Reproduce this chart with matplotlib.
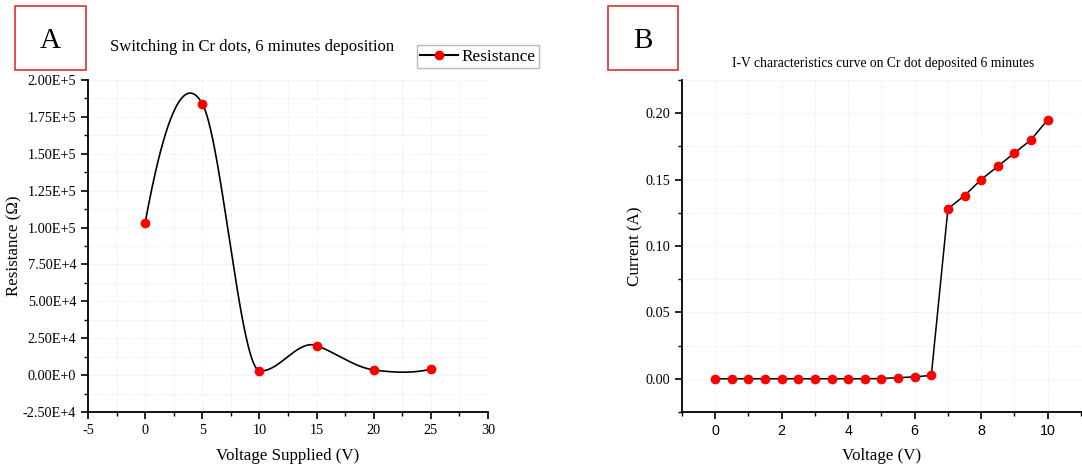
import numpy as np
import matplotlib.pyplot as plt
from matplotlib.ticker import MultipleLocator, FuncFormatter
from matplotlib.patches import Rectangle

# panel A: resistance vs supplied voltage
volt_a = [0, 5, 10, 15, 20, 25]
resist = [1.03e5, 1.84e5, 3.0e3, 2.0e4, 3.5e3, 4.0e3]

# panel B: I-V curve
volt_b = [0, 0.5, 1, 1.5, 2, 2.5, 3, 3.5, 4, 4.5, 5, 5.5, 6, 6.5,
          7, 7.5, 8, 8.5, 9, 9.5, 10]
current = [0, 0, 0, 0, 0, 0, 0, 0, 0, 0, 0.0002, 0.0008, 0.0015, 0.0025,
           0.128, 0.138, 0.150, 0.160, 0.170, 0.180, 0.195]

plt.rcParams['font.family'] = 'Liberation Serif'
plt.rcParams['axes.unicode_minus'] = False


def akima(x, y, n=500):
    # Akima spline, only used to draw the smooth connecting line
    x = np.asarray(x, float)
    y = np.asarray(y, float)
    d = np.diff(y) / np.diff(x)
    m = np.concatenate([[3 * d[0] - 2 * d[1], 2 * d[0] - d[1]], d,
                        [2 * d[-1] - d[-2], 3 * d[-1] - 2 * d[-2]]])
    w1 = np.abs(m[3:] - m[2:-1])
    w2 = np.abs(m[1:-2] - m[:-3])
    t = np.where(w1 + w2 > 0,
                 (w1 * m[1:-2] + w2 * m[2:-1]) / np.where(w1 + w2 > 0, w1 + w2, 1),
                 0.5 * (m[1:-2] + m[2:-1]))
    xs = np.linspace(x[0], x[-1], n)
    i = np.clip(np.searchsorted(x, xs) - 1, 0, len(x) - 2)
    h = x[i + 1] - x[i]
    s = (xs - x[i]) / h
    h00 = 2 * s ** 3 - 3 * s ** 2 + 1
    h10 = s ** 3 - 2 * s ** 2 + s
    h01 = -2 * s ** 3 + 3 * s ** 2
    h11 = s ** 3 - s ** 2
    ys = h00 * y[i] + h10 * h * t[i] + h01 * y[i + 1] + h11 * h * t[i + 1]
    return xs, ys


def sci(v, pos):
    if abs(v) < 1:
        return '0.00E+0'
    e = int(np.floor(np.log10(abs(v))))
    return '%.2fE+%d' % (v / 10 ** e, e)


def style(ax):
    ax.spines['top'].set_visible(False)
    ax.spines['right'].set_visible(False)
    for s in ['left', 'bottom']:
        ax.spines[s].set_linewidth(1.3)
    ax.grid(True, which='both', color='#e3e3e3', linewidth=0.6, linestyle=':')
    ax.set_axisbelow(True)
    ax.tick_params(which='major', direction='out', length=5, width=1.2, labelsize=10.3)
    ax.tick_params(which='minor', direction='out', length=3, width=1)


fig = plt.figure(figsize=(10.82, 4.68), dpi=100)

# ---- panel A ----
ax1 = fig.add_axes([0.0813, 0.1197, 0.3697, 0.7094])
xs, ys = akima(volt_a, resist)
ax1.plot(xs, ys, color='black', linewidth=1.2)
ax1.plot(volt_a, resist, 'o', color='#ff0000', markersize=6)
ax1.plot([], [], '-o', color='black', markerfacecolor='#ff0000',
         markeredgecolor='#ff0000', markersize=6, label='Resistance')
ax1.set_xlim(-5, 30)
ax1.set_ylim(-2.5e4, 2.0e5)
ax1.xaxis.set_major_locator(MultipleLocator(5))
ax1.xaxis.set_minor_locator(MultipleLocator(2.5))
ax1.yaxis.set_major_locator(MultipleLocator(2.5e4))
ax1.yaxis.set_minor_locator(MultipleLocator(1.25e4))
ax1.yaxis.set_major_formatter(FuncFormatter(sci))
style(ax1)
ax1.set_xlabel('Voltage Supplied (V)', fontsize=12.2)
ax1.set_ylabel('Resistance (Ω)', fontsize=12.2)
ax1.xaxis.set_label_coords(0.5, -36 / 332)
ax1.yaxis.set_label_coords(-66 / 400, 0.5)
fig.text(0.233, 1 - 47 / 468, 'Switching in Cr dots, 6 minutes deposition',
         ha='center', va='center', fontsize=12)
leg = fig.legend(loc='center', bbox_to_anchor=(0.4418, 0.879), fontsize=12.4,
                 frameon=True, fancybox=False, handlelength=2.2,
                 borderpad=0.2, handletextpad=0.2, borderaxespad=0)
leg.get_frame().set_edgecolor('#aaaaaa')
leg.get_frame().set_linewidth(1)

# ---- panel B ----
ax2 = fig.add_axes([0.6303, 0.1197, 0.3687, 0.7094])
ax2.plot(volt_b, current, '-o', color='black', linewidth=1.1,
         markerfacecolor='#ff0000', markeredgecolor='#ff0000', markersize=6)
ax2.set_xlim(-1, 11)
ax2.set_ylim(-0.025, 0.225)
ax2.xaxis.set_major_locator(MultipleLocator(2))
ax2.xaxis.set_minor_locator(MultipleLocator(1))
ax2.yaxis.set_major_locator(MultipleLocator(0.05))
ax2.yaxis.set_minor_locator(MultipleLocator(0.025))
ax2.yaxis.set_major_formatter(FuncFormatter(lambda v, p: '%.2f' % v))
style(ax2)
for t in ax2.get_xticklabels():
    t.set_fontfamily('Liberation Sans')
ax2.set_xlabel('Voltage (V)', fontsize=12.2)
ax2.set_ylabel('Current (A)', fontsize=12.2)
ax2.xaxis.set_label_coords(0.5, -36 / 332)
ax2.yaxis.set_label_coords(-39 / 400, 0.5)
fig.text(0.8166, 0.865, 'I-V characteristics curve on Cr dot deposited 6 minutes',
         ha='center', va='center', fontsize=9.8)

# panel letters in red boxes
for x0, x1, letter in [(15, 86, 'A'), (608, 678, 'B')]:
    fig.patches.append(Rectangle((x0 / 1082, 1 - 70 / 468), (x1 - x0) / 1082,
                                 64 / 468, transform=fig.transFigure,
                                 fill=False, edgecolor='#e03030', linewidth=1.2))
    fig.text((x0 + x1) / 2 / 1082, 1 - 41 / 468, letter, ha='center',
             va='center', fontsize=21)

fig.savefig('out.png', dpi=100)
